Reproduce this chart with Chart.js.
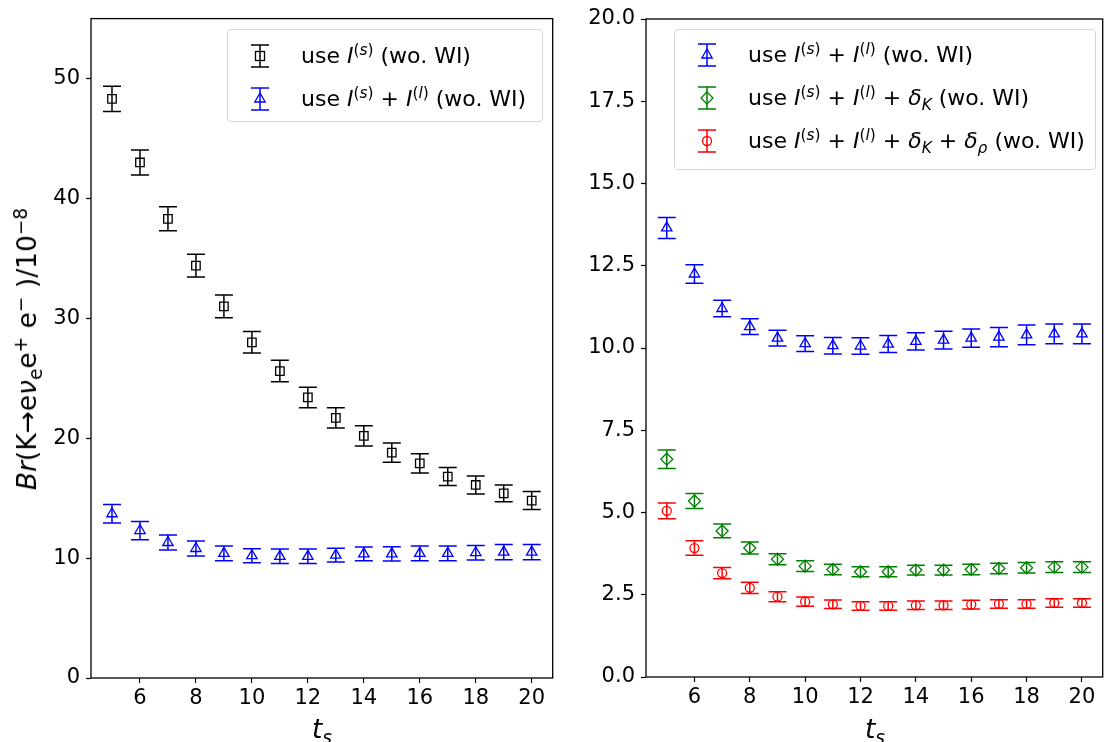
<!DOCTYPE html>
<html>
<head>
<meta charset="utf-8">
<script src="https://cdn.jsdelivr.net/npm/chart.js@4.4.1/dist/chart.umd.min.js"></script>
<style>
  body { margin: 0; width: 1104px; height: 742px; overflow: hidden; position: relative; background: #fff; font-family: "DejaVu Sans", sans-serif; color: #000; }
  .wrap { position: absolute; top: 0; height: 742px; }
  .legend { position: absolute; background: rgba(255,255,255,0.8); border: 1px solid #d6d6d6; border-radius: 4px; font-size: 22px; }
  .row { position: absolute; left: 0; white-space: nowrap; line-height: 24px; }
  .row svg { position: absolute; top: -3px; }
  .row span { position: absolute; }
  sup, sub { font-size: 0.7em; line-height: 0; }
  sup { vertical-align: 0.5em; }
  sub { vertical-align: -0.3em; }
  .title { position: absolute; white-space: nowrap; font-size: 26.5px; line-height: 26px; }
</style>
</head>
<body>
<div class="wrap" style="left:0;width:560px"><canvas id="left"></canvas></div>
<div class="wrap" style="left:560px;width:550px"><canvas id="right"></canvas></div>

<div class="legend" style="left:227px;top:29px;width:314px;height:91px">
  <div class="row" style="top:14px">
    <svg width="30" height="30" style="left:17px"><path d="M15 4V26M6 4H24M6 26H24" stroke="#000" stroke-width="1.5" fill="none"/><rect x="10.5" y="10.5" width="9" height="9" stroke="#000" stroke-width="1.3" fill="none"/></svg>
    <span style="left:73px">use <i>I</i><sup>(<i>s</i>)</sup> (wo. WI)</span>
  </div>
  <div class="row" style="top:57px">
    <svg width="30" height="30" style="left:17px"><path d="M15 4V26M6 4H24M6 26H24" stroke="#00f" stroke-width="1.5" fill="none"/><path d="M15 9L20.2 18L9.8 18Z" stroke="#00f" stroke-width="1.3" fill="none"/></svg>
    <span style="left:73px">use <i>I</i><sup>(<i>s</i>)</sup> + <i>I</i><sup>(<i>l</i>)</sup> (wo. WI)</span>
  </div>
</div>

<div class="legend" style="left:674px;top:29px;width:420px;height:139px">
  <div class="row" style="top:13px">
    <svg width="30" height="30" style="left:17px"><path d="M15 4V26M6 4H24M6 26H24" stroke="#00f" stroke-width="1.5" fill="none"/><path d="M15 9L20.2 18L9.8 18Z" stroke="#00f" stroke-width="1.3" fill="none"/></svg>
    <span style="left:73px">use <i>I</i><sup>(<i>s</i>)</sup> + <i>I</i><sup>(<i>l</i>)</sup> (wo. WI)</span>
  </div>
  <div class="row" style="top:56px">
    <svg width="30" height="30" style="left:17px"><path d="M15 4V26M6 4H24M6 26H24" stroke="#008000" stroke-width="1.5" fill="none"/><path d="M15 9L21 15L15 21L9 15Z" stroke="#008000" stroke-width="1.3" fill="none"/></svg>
    <span style="left:73px">use <i>I</i><sup>(<i>s</i>)</sup> + <i>I</i><sup>(<i>l</i>)</sup> + <i>δ</i><sub><i>K</i></sub> (wo. WI)</span>
  </div>
  <div class="row" style="top:99px">
    <svg width="30" height="30" style="left:17px"><path d="M15 4V26M6 4H24M6 26H24" stroke="#f00" stroke-width="1.5" fill="none"/><circle cx="15" cy="15" r="4.5" stroke="#f00" stroke-width="1.3" fill="none"/></svg>
    <span style="left:73px">use <i>I</i><sup>(<i>s</i>)</sup> + <i>I</i><sup>(<i>l</i>)</sup> + <i>δ</i><sub><i>K</i></sub> + <i>δ</i><sub><i>ρ</i></sub> (wo. WI)</span>
  </div>
</div>

<div class="title" style="left:27px;top:349px;transform:translate(-50%,-50%) rotate(-90deg)"><i>Br</i>(K→e<i>ν</i><sub>e</sub>e<sup>+</sup> e<sup>−</sup> )/10<sup>−8</sup></div>
<div class="title" style="left:322px;top:716px;transform:translateX(-50%)"><i>t</i><sub><i>s</i></sub></div>
<div class="title" style="left:875px;top:716px;transform:translateX(-50%)"><i>t</i><sub><i>s</i></sub></div>

<script>
// t_s values
const ts = [5, 6, 7, 8, 9, 10, 11, 12, 13, 14, 15, 16, 17, 18, 19, 20];

// use I(s)
const brS  = [48.3, 43.0, 38.3, 34.4, 31.0, 28.0, 25.6, 23.4, 21.7, 20.2, 18.8, 17.9, 16.8, 16.1, 15.4, 14.8];
const errS = [1.05, 1.05, 1.0, 0.95, 0.95, 0.9, 0.9, 0.85, 0.85, 0.85, 0.8, 0.8, 0.75, 0.75, 0.7, 0.75];

// use I(s)+I(l), left panel
const brSLleft  = [13.7, 12.3, 11.3, 10.8, 10.4, 10.2, 10.15, 10.15, 10.25, 10.35, 10.35, 10.4, 10.4, 10.45, 10.5, 10.5];
const errSLleft = [0.77, 0.76, 0.62, 0.62, 0.62, 0.58, 0.6, 0.6, 0.58, 0.58, 0.6, 0.62, 0.62, 0.6, 0.64, 0.64];

// use I(s)+I(l), right panel
const brSL  = [13.65, 12.25, 11.2, 10.65, 10.3, 10.13, 10.07, 10.06, 10.12, 10.2, 10.24, 10.3, 10.33, 10.4, 10.43, 10.43];
const errSL = [0.32, 0.28, 0.25, 0.24, 0.24, 0.24, 0.25, 0.25, 0.26, 0.26, 0.27, 0.28, 0.29, 0.3, 0.3, 0.3];

// + delta_K
const brSLK  = [6.62, 5.35, 4.44, 3.92, 3.58, 3.37, 3.27, 3.2, 3.2, 3.25, 3.25, 3.27, 3.3, 3.32, 3.34, 3.34];
const errSLK = [0.28, 0.23, 0.21, 0.18, 0.17, 0.16, 0.16, 0.15, 0.15, 0.15, 0.15, 0.16, 0.16, 0.16, 0.16, 0.16];

// + delta_K + delta_rho
const brSLKR  = [5.05, 3.92, 3.16, 2.71, 2.44, 2.29, 2.21, 2.16, 2.16, 2.18, 2.18, 2.2, 2.22, 2.22, 2.25, 2.25];
const errSLKR = [0.24, 0.22, 0.17, 0.17, 0.15, 0.14, 0.13, 0.13, 0.13, 0.13, 0.13, 0.13, 0.13, 0.13, 0.13, 0.13];

const xTicks = [6, 8, 10, 12, 14, 16, 18, 20];
const yTicksLeft = [0, 10, 20, 30, 40, 50];
const yTicksRight = [0, 2.5, 5, 7.5, 10, 12.5, 15, 17.5, 20];

function pts(vals) {
    return vals.map((v, i) => ({x: ts[i], y: v}));
}

function series(label, vals, errs, color, style, r) {
    return {
        label: label,
        data: pts(vals),
        errors: errs,
        borderColor: color,
        backgroundColor: 'rgba(0,0,0,0)',
        pointStyle: style,
        pointRadius: r,
        pointBorderWidth: 1.3,
        showLine: false
    };
}

// vertical error bars with caps, drawn under the markers
const errorBars = {
    id: 'errorBars',
    beforeDatasetsDraw(chart) {
        const ctx = chart.ctx;
        const x = chart.scales.x, y = chart.scales.y;
        chart.data.datasets.forEach(ds => {
            ctx.save();
            ctx.strokeStyle = ds.borderColor;
            ctx.lineWidth = 1.5;
            ds.data.forEach((p, j) => {
                const px = x.getPixelForValue(p.x);
                const top = y.getPixelForValue(p.y + ds.errors[j]);
                const bot = y.getPixelForValue(p.y - ds.errors[j]);
                ctx.beginPath();
                ctx.moveTo(px, top); ctx.lineTo(px, bot);
                ctx.moveTo(px - 9, top); ctx.lineTo(px + 9, top);
                ctx.moveTo(px - 9, bot); ctx.lineTo(px + 9, bot);
                ctx.stroke();
            });
            ctx.restore();
        });
    }
};

// box around the plot area, like matplotlib spines
const frame = {
    id: 'frame',
    afterDraw(chart) {
        const a = chart.chartArea, ctx = chart.ctx;
        ctx.save();
        ctx.strokeStyle = '#000';
        ctx.lineWidth = 1.3;
        ctx.strokeRect(a.left, a.top, a.right - a.left, a.bottom - a.top);
        ctx.restore();
    }
};

function makeChart(id, datasets, ymax, yTicks, yFmt, yWidth, pad, xHeight) {
    const tickFont = {family: 'DejaVu Sans', size: 21};
    return new Chart(document.getElementById(id), {
        type: 'scatter',
        data: {datasets: datasets},
        options: {
            responsive: true,
            maintainAspectRatio: false,
            animation: false,
            layout: {padding: pad},
            plugins: {legend: {display: false}, tooltip: {enabled: false}},
            scales: {
                x: {
                    type: 'linear', min: 4.25, max: 20.75,
                    afterBuildTicks: s => { s.ticks = xTicks.map(v => ({value: v})); },
                    afterFit: s => { s.height = xHeight; },
                    border: {display: false},
                    grid: {drawOnChartArea: false, tickLength: 5, tickColor: '#000', tickWidth: 1.2},
                    ticks: {font: tickFont, color: '#000', padding: 3, maxRotation: 0}
                },
                y: {
                    type: 'linear', min: 0, max: ymax,
                    afterBuildTicks: s => { s.ticks = yTicks.map(v => ({value: v})); },
                    afterFit: s => { s.width = yWidth; },
                    border: {display: false},
                    grid: {drawOnChartArea: false, tickLength: 5, tickColor: '#000', tickWidth: 1.2},
                    ticks: {font: tickFont, color: '#000', padding: 6, callback: yFmt}
                }
            }
        },
        plugins: [errorBars, frame]
    });
}

makeChart('left', [
    series('use I(s) (wo. WI)', brS, errS, '#000000', 'rect', 6),
    series('use I(s) + I(l) (wo. WI)', brSLleft, errSLleft, '#0000ff', 'triangle', 6)
], 55, yTicksLeft, v => String(v), 91, {left: 0, top: 18, right: 6, bottom: 0}, 64);

makeChart('right', [
    series('use I(s) + I(l) (wo. WI)', brSL, errSL, '#0000ff', 'triangle', 6),
    series('use I(s) + I(l) + δK (wo. WI)', brSLK, errSLK, '#008000', 'rectRot', 6),
    series('use I(s) + I(l) + δK + δρ (wo. WI)', brSLKR, errSLKR, '#ff0000', 'circle', 4.5)
], 20, yTicksRight, v => v.toFixed(1), 86, {left: 0, top: 19, right: 5, bottom: 0}, 65);
</script>
</body>
</html>
